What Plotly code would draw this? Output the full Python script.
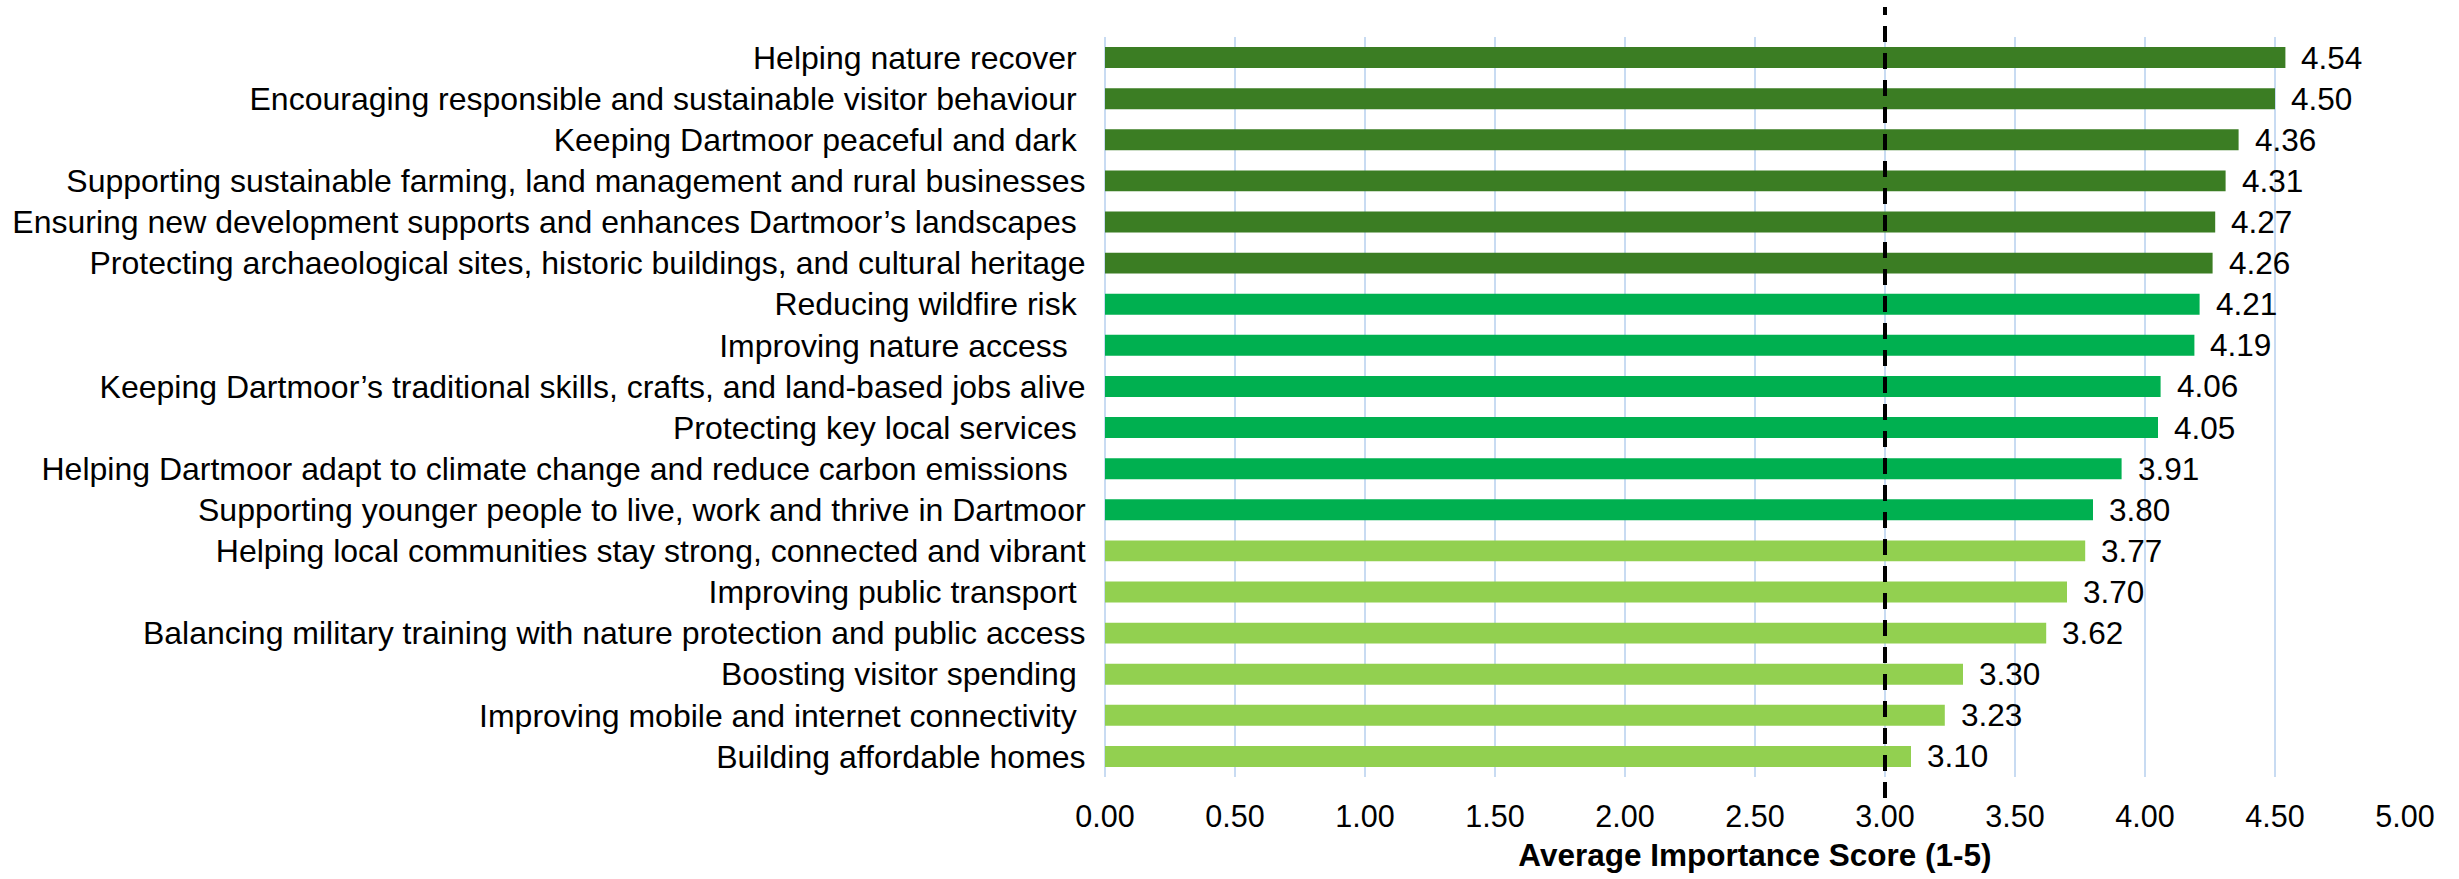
import plotly.graph_objects as go

NBSP = "\u00a0"

categories = [
    "Helping nature recover" + NBSP,
    "Encouraging responsible and sustainable visitor behaviour" + NBSP,
    "Keeping Dartmoor peaceful and dark" + NBSP,
    "Supporting sustainable farming, land management and rural businesses",
    "Ensuring new development supports and enhances Dartmoor\u2019s landscapes" + NBSP,
    "Protecting archaeological sites, historic buildings, and cultural heritage",
    "Reducing wildfire risk" + NBSP,
    "Improving nature access" + NBSP * 2,
    "Keeping Dartmoor\u2019s traditional skills, crafts, and land-based jobs alive",
    "Protecting key local services" + NBSP,
    "Helping Dartmoor adapt to climate change and reduce carbon emissions" + NBSP * 2,
    "Supporting younger people to live, work and thrive in Dartmoor",
    "Helping local communities stay strong, connected and vibrant",
    "Improving public transport" + NBSP,
    "Balancing military training with nature protection and public access",
    "Boosting visitor spending" + NBSP,
    "Improving mobile and internet connectivity" + NBSP,
    "Building affordable homes",
]

scores = [4.54, 4.50, 4.36, 4.31, 4.27, 4.26, 4.21, 4.19, 4.06,
          4.05, 3.91, 3.80, 3.77, 3.70, 3.62, 3.30, 3.23, 3.10]

# priority tier for each item: 0 = top, 1 = middle, 2 = lower
tiers = [0, 0, 0, 0, 0, 0, 1, 1, 1, 1, 1, 1, 2, 2, 2, 2, 2, 2]
tier_colors = ["#3B7D23", "#00B050", "#92D050"]

x_ticks = [0.0, 0.5, 1.0, 1.5, 2.0, 2.5, 3.0, 3.5, 4.0, 4.5, 5.0]
midpoint = 3.0
x_max = 5.0

FONT = "Liberation Sans, Arial, sans-serif"
GRID = "#C8DBF2"

fig = go.Figure()
fig.add_trace(go.Bar(
    x=scores,
    y=categories,
    orientation="h",
    marker=dict(color=[tier_colors[t] for t in tiers], line=dict(width=0)),
    hoverinfo="x+y",
))

for cat, val in zip(categories, scores):
    fig.add_annotation(
        x=val, y=cat, xref="x", yref="y",
        text=f"{val:.2f}", showarrow=False,
        xanchor="left", yanchor="middle", xshift=14,
        font=dict(family=FONT, size=31.5, color="#000000"),
    )

# dashed reference line at the scale midpoint
fig.add_shape(
    type="line", xref="x", yref="paper",
    x0=midpoint, x1=midpoint, y0=-0.0283, y1=1.0404,
    line=dict(color="#000000", width=4, dash="16px,11px"),
    layer="above",
)

fig.update_layout(
    width=2459, height=879,
    margin=dict(l=1103, r=54, t=37, b=100),
    paper_bgcolor="#FFFFFF",
    plot_bgcolor="#FFFFFF",
    bargap=0.49,
    showlegend=False,
    font=dict(family=FONT, color="#000000"),
)

fig.update_xaxes(
    range=[0, x_max],
    tickvals=x_ticks,
    ticktext=[f"{v:.2f}" for v in x_ticks],
    showgrid=True, gridcolor=GRID, gridwidth=1.5,
    zeroline=True, zerolinecolor=GRID, zerolinewidth=1.5,
    showline=False,
    ticks="outside", ticklen=12, tickcolor="rgba(0,0,0,0)",
    tickfont=dict(family=FONT, size=30.5, color="#000000"),
    title=dict(text="<b>Average Importance Score (1-5)</b>",
               font=dict(family=FONT, size=31.5, color="#000000"),
               standoff=12),
)

fig.update_yaxes(
    autorange="reversed",
    showgrid=False, showline=False, zeroline=False,
    ticks="outside", ticklen=12, tickcolor="rgba(0,0,0,0)",
    tickfont=dict(family=FONT, size=32, color="#000000"),
)

fig.write_html("out.html")
